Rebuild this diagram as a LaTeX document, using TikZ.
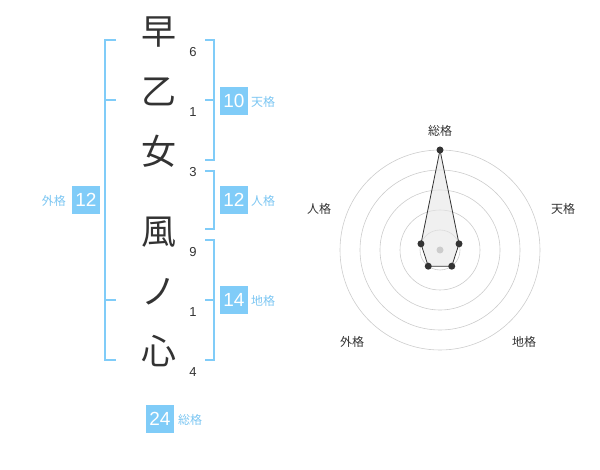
\documentclass[tikz,border=0pt]{standalone}
\usepackage{fontspec}
\usetikzlibrary{calc}
\setmainfont{Liberation Sans}
\newfontfamily\jp{Noto Sans CJK JP}
\definecolor{bl}{HTML}{80CCF8}
\definecolor{bltxt}{HTML}{7CC6F2}
\definecolor{ink}{HTML}{333333}
\definecolor{ring}{HTML}{CCCCCC}
\definecolor{fillg}{HTML}{E6E6E6}
\begin{document}
\begin{tikzpicture}[x=1pt,y=-1pt,
  kanji/.style={font=\jp\fontsize{35}{35}\selectfont, text=ink, inner sep=0pt, text height=0.88em, text depth=0.12em},
  strokes/.style={font=\fontsize{13}{13}\selectfont, text=ink, inner sep=0pt},
  valbox/.style={fill=bl, text=white, minimum width=28pt, minimum height=28pt, inner sep=0pt, font=\fontsize{19}{19}\selectfont},
  kaku/.style={font=\jp\fontsize{12}{12}\selectfont, text=bltxt, inner sep=0pt},
  brk/.style={draw=bl, line width=2pt},
  ringst/.style={draw=ring, line width=0.6pt},
  axlab/.style={font=\jp\fontsize{12}{12}\selectfont, text=ink, inner sep=0pt},
  dot/.style={circle, fill=ink, inner sep=0pt, minimum size=7pt}
]
\useasboundingbox (0,0) rectangle (600,470);

% characters
\node[kanji] (k1) at (159,41) {早};
\node[kanji] (k2) at (159,101) {乙};
\node[kanji] (k3) at (159,161) {女};
\node[kanji] (k4) at (159,241) {風};
\node[kanji] (k5) at (159,301) {ノ};
\node[kanji] (k6) at (159,361) {心};

% stroke counts
\node[strokes] (n1) at (193,52) {6};
\node[strokes] (n2) at (193,112) {1};
\node[strokes] (n3) at (193,172) {3};
\node[strokes] (n4) at (193,252) {9};
\node[strokes] (n5) at (193,312) {1};
\node[strokes] (n6) at (193,372) {4};

% brackets
\draw[brk] (116,40) -- (105,40) -- (105,360) -- (116,360);
\draw[brk] (105,100) -- (116,100);
\draw[brk] (105,300) -- (116,300);
\draw[brk] (205,40) -- (214,40) -- (214,160) -- (205,160);
\draw[brk] (205,100) -- (214,100);
\draw[brk] (205,171) -- (214,171) -- (214,229) -- (205,229);
\draw[brk] (205,240) -- (214,240) -- (214,360) -- (205,360);
\draw[brk] (205,300) -- (214,300);

% value boxes
\node[valbox] (ten) at (234,101) {10};
\node[kaku, anchor=west] (tenl) at (251,102) {天格};
\node[valbox] (jin) at (234,200) {12};
\node[kaku, anchor=west] (jinl) at (251,201) {人格};
\node[valbox] (chi) at (234,300) {14};
\node[kaku, anchor=west] (chil) at (251,301) {地格};
\node[valbox] (gai) at (86,200) {12};
\node[kaku, anchor=east] (gail) at (66,201) {外格};
\node[valbox] (sou) at (160,419) {24};
\node[kaku, anchor=west] (soul) at (178,420) {総格};

% radar chart
\coordinate (c) at (440,250);
\foreach \r in {20,40,60,80,100}
  \draw[ringst] (c) circle[radius=\r];
\coordinate (p1) at ($(c)+(-90:100)$);
\coordinate (p2) at ($(c)+(-18:20)$);
\coordinate (p3) at ($(c)+(54:20)$);
\coordinate (p4) at ($(c)+(126:20)$);
\coordinate (p5) at ($(c)+(-162:20)$);
\fill[fillg, fill opacity=0.6] (p1) -- (p2) -- (p3) -- (p4) -- (p5) -- cycle;
\draw[ink, line width=0.8pt, line join=round] (p1) -- (p2) -- (p3) -- (p4) -- (p5) -- cycle;
\node[circle, fill=ring, inner sep=0pt, minimum size=7pt] (cd) at (c) {};
\foreach \p in {p1,p2,p3,p4,p5}
  \node[dot] at (\p) {};
\node[axlab] (a1) at (440,131) {総格};
\node[axlab] (a2) at (563,209) {天格};
\node[axlab] (a3) at (319,209) {人格};
\node[axlab] (a4) at (352,342) {外格};
\node[axlab] (a5) at (524,342) {地格};
\end{tikzpicture}
\end{document}
